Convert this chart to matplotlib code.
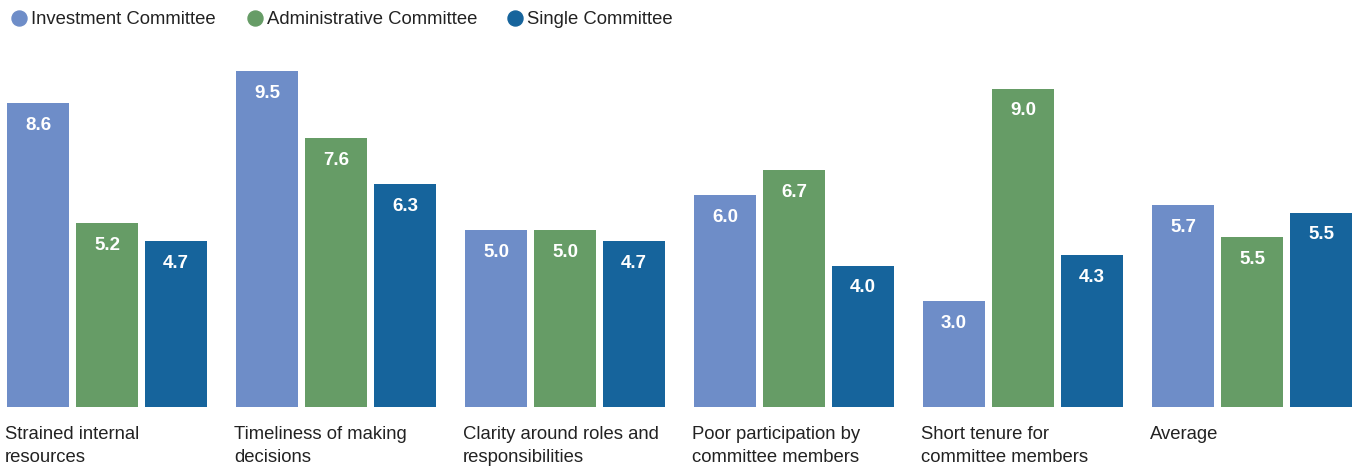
import matplotlib.pyplot as plt
from matplotlib.lines import Line2D

plt.switch_backend('agg')
plt.rcParams['font.family'] = ['Liberation Sans', 'DejaVu Sans']

# Chart data
categories = [
    'Strained internal\nresources',
    'Timeliness of making\ndecisions',
    'Clarity around roles and\nresponsibilities',
    'Poor participation by\ncommittee members',
    'Short tenure for\ncommittee members',
    'Average',
]
series_names = ['Investment Committee', 'Administrative Committee', 'Single Committee']
# bar heights as drawn
investment = [8.6, 9.5, 5.0, 6.0, 3.0, 5.7]
administrative = [5.2, 7.6, 5.0, 6.7, 9.0, 4.8]
single = [4.7, 6.3, 4.7, 4.0, 4.3, 5.5]
# printed value labels (the Average admin bar is labelled 5.5 in the source)
investment_labels = ['8.6', '9.5', '5.0', '6.0', '3.0', '5.7']
administrative_labels = ['5.2', '7.6', '5.0', '6.7', '9.0', '5.5']
single_labels = ['4.7', '6.3', '4.7', '4.0', '4.3', '5.5']

colors = ['#6e8dc8', '#669c66', '#16649c']
text_color = '#222222'

W, H = 1352, 466
group_px = 229.0
bar_w = 62 / group_px
bar_step = 69 / group_px

fig = plt.figure(figsize=(W / 100, H / 100), dpi=100)
bottom_px, top_px = 407, 53.4
ax = fig.add_axes([0, (H - bottom_px) / H, 1, (bottom_px - top_px) / H])
ax.set_xlim(-7 / group_px, (W - 7) / group_px)
ax.set_ylim(0, 10)
ax.axis('off')

all_series = [investment, administrative, single]
all_labels = [investment_labels, administrative_labels, single_labels]
for k, (values, labels) in enumerate(zip(all_series, all_labels)):
    xs = [i + k * bar_step for i in range(len(values))]
    bars = ax.bar(xs, values, width=bar_w, align='edge', color=colors[k], linewidth=0)
    for b, v, lab in zip(bars, values, labels):
        ax.annotate(lab, (b.get_x() + b.get_width() / 2, v),
                    xytext=(0, -16), textcoords='offset points',
                    ha='center', va='center', color='white',
                    fontsize=13.5, fontweight='bold')

for i, label in enumerate(categories):
    ax.text(i - 2 / group_px, -19 / (bottom_px - top_px) * 10, label,
            ha='left', va='top', fontsize=13.3, color=text_color,
            linespacing=1.43)

# legend, drawn by hand to match the spacing
legend_text_x = [31, 267, 527]
legend_y = 1 - 17.5 / H
for name, c, tx in zip(series_names, colors, legend_text_x):
    fig.add_artist(Line2D([(tx - 12.5) / W], [legend_y], transform=fig.transFigure,
                          marker='o', markersize=10.8, linestyle='none',
                          markerfacecolor=c, markeredgecolor=c))
    fig.text(tx / W, legend_y, name, ha='left', va='center_baseline',
             fontsize=13.3, color=text_color)

fig.savefig('out.png', dpi=100)
